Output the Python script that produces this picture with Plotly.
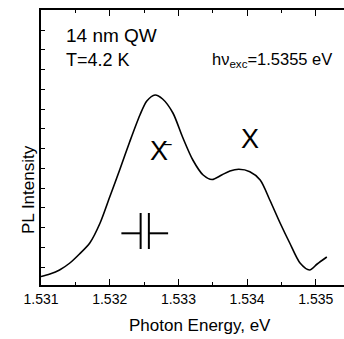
import plotly.graph_objects as go

# Photon energy (eV) and PL intensity (arb. units)
energy = [1.53100, 1.53113, 1.53127, 1.53142, 1.53156, 1.53171, 1.53186, 1.53200,
          1.53215, 1.53229, 1.53244, 1.53254, 1.53266, 1.53277, 1.53292, 1.53306,
          1.53321, 1.53336, 1.53349, 1.53363, 1.53375, 1.53388, 1.53404, 1.53419,
          1.53433, 1.53448, 1.53462, 1.53477, 1.53491, 1.53502, 1.53516]
intensity = [8.5, 11.0, 15.0, 22.0, 31.0, 42.0, 62.0, 88.0,
             116.0, 143.0, 170.0, 184.0, 190.0, 186.0, 172.0, 148.0,
             125.0, 110.0, 105.5, 110.0, 114.0, 115.7, 113.3, 105.0,
             85.0, 62.0, 42.0, 22.0, 15.0, 21.0, 28.0]

x_ticks = [1.531, 1.532, 1.533, 1.534, 1.535]
x_ticklabels = ["1.531", "1.532", "1.533", "1.534", "1.535"]

FONT = "Arial, Liberation Sans, sans-serif"

fig = go.Figure()
fig.add_trace(go.Scatter(x=energy, y=intensity, mode="lines",
                         line=dict(color="black", width=1.6, shape="spline", smoothing=0.8),
                         hoverinfo="skip", showlegend=False))

# split-line symbol (two vertical bars with leads)
sym = dict(type="line", xref="x", yref="y", line=dict(color="black", width=2))
fig.add_shape(x0=1.53217, x1=1.53245, y0=51.7, y1=51.7, **sym)
fig.add_shape(x0=1.53257, x1=1.53285, y0=51.7, y1=51.7, **sym)
fig.add_shape(x0=1.53245, x1=1.53245, y0=36, y1=72, **sym)
fig.add_shape(x0=1.53257, x1=1.53257, y0=36, y1=72, **sym)

ann = []
def txt(x, y, s, size, xanchor="left", angle=0, family=FONT):
    ann.append(dict(x=x, y=y, xref="paper", yref="paper", text=s, showarrow=False,
                    xanchor=xanchor, yanchor="middle", textangle=angle,
                    font=dict(family=family, size=size, color="black")))

W, H = 344, 339
L, T, B = 41, 10, 54
pw, ph = W - L, H - T - B
def px(x): return (x - L) / pw
def py(y): return (H - B - y) / ph

txt(px(64), py(35), "14 nm QW", 19)
txt(px(64), py(60), "T=4.2 K", 18)
txt(px(210), py(60), "hν<sub>exc</sub>=1.5355 eV", 16.5)
txt(px(158.5), py(151), "X", 27, xanchor="center")
txt(px(167), py(144), "−", 16, xanchor="center")
txt(px(250), py(139), "X", 27, xanchor="center")
txt(px(200), py(325), "Photon Energy, eV", 17, xanchor="center")
txt(px(28), py(190), "PL Intensity", 17, xanchor="center", angle=-90)

fig.update_layout(
    width=W, height=H,
    margin=dict(l=L, r=0, t=T, b=B, autoexpand=False),
    paper_bgcolor="white", plot_bgcolor="white",
    annotations=ann,
    xaxis=dict(range=[1.53100, 1.53541], tickvals=x_ticks, ticktext=x_ticklabels,
               ticks="inside", ticklen=6, tickwidth=1.2, tickcolor="black",
               showline=True, linecolor="black", linewidth=2, mirror="ticks",
               showgrid=False, zeroline=False, automargin=False,
               tickfont=dict(family=FONT, size=14, color="black"),
               minor=dict(dtick=0.0005, tick0=1.531, ticks="inside", ticklen=3,
                          tickcolor="black", tickwidth=1.2, showgrid=False)),
    yaxis=dict(range=[0, 275], tick0=18, dtick=19.75, showticklabels=False,
               ticks="inside", ticklen=4, tickwidth=1.2, tickcolor="black",
               showline=True, linecolor="black", linewidth=2, mirror=False,
               showgrid=False, zeroline=False, automargin=False),
)

fig.write_html("out.html", config={"displayModeBar": False},
               post_script="document.body.style.margin='0';document.body.style.overflow='hidden';")
